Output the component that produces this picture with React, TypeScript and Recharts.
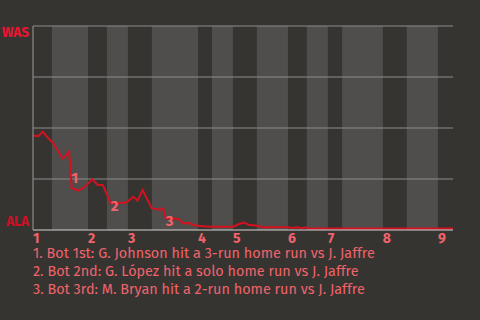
import React from 'react';
import { ComposedChart, Line, XAxis, YAxis, ReferenceArea, ReferenceLine, Scatter } from 'recharts';

// Game progress (0-100) and Washington win probability (%)
const progress = [0, 1.3, 2.3, 3.6, 4.5, 5.5, 7.0, 7.6, 8.6, 8.98, 9.2, 10.8, 12.4, 14.1, 15.4, 16.6, 17.5, 18.5, 20.3, 22.3, 23.9, 24.9, 26.1, 28.3, 29.5, 30.2, 31.0, 31.6, 34.6, 35.8, 37.4, 38.2, 40.5, 42.5, 47.7, 48.9, 50.2, 51.3, 52.5, 53.6, 54.8, 60.8, 61.6, 63.1, 63.8, 64.8, 65.5, 100];
const wasWinPct = [46.2, 46.1, 48.2, 45.1, 43.3, 40.3, 35.1, 35.8, 38.7, 27.0, 20.7, 19.3, 21.2, 24.9, 22.1, 22.1, 18.0, 13.1, 13.1, 13.6, 16.3, 14.4, 19.6, 10.6, 10.3, 9.8, 10.6, 5.7, 5.4, 3.3, 3.3, 2.3, 1.8, 1.6, 1.6, 2.8, 3.6, 2.6, 2.3, 2.0, 1.3, 1.3, 1.0, 1.3, 0.8, 1.3, 0.7, 0.7];

const innings = ['1', '2', '3', '4', '5', '6', '7', '8', '9'];
const inningStarts = [0, 13.1, 22.6, 39.3, 47.6, 60.7, 70.2, 83.3, 96.4];
const bottomHalfStarts = [4.5, 17.6, 28.3, 42.6, 53.3, 65.2, 73.6, 89.0];

const homeRunIdx = [9, 17, 27];
const homeRunLabels = ['1', '2', '3'];
const captions = [
  '1. Bot 1st: G. Johnson hit a 3-run home run vs J. Jaffre',
  '2. Bot 2nd: G. López hit a solo home run vs J. Jaffre',
  '3. Bot 3rd: M. Bryan hit a 2-run home run vs J. Jaffre',
];
const gridValues = [25, 50, 75, 100];

const data = progress.map((p, i) => ({ p, v: wasWinPct[i] }));
const hrData = homeRunIdx.map((idx, k) => ({ p: progress[idx], v: wasWinPct[idx], label: homeRunLabels[k] }));

const FONT = '"Fira Sans", "Noto Sans", sans-serif';
const SALMON = '#f0636b';

const XTick = (props: any) => {
  const i = inningStarts.indexOf(props.payload.value);
  return (
    <text x={props.x} y={props.y} textAnchor="start" dominantBaseline="central" fill={SALMON}
      fontFamily={FONT} fontWeight={700} fontSize={14}>
      {innings[i]}
    </text>
  );
};

const YTick = (props: any) => {
  const top = props.payload.value === 100;
  return (
    <text x={29} y={props.y + (top ? 6 : -9)} textAnchor="end" dominantBaseline="central"
      fill={top ? '#e8162e' : '#cc1024'} fontFamily={FONT} fontWeight={700} fontSize={13.5}>
      {top ? 'WAS' : 'ALA'}
    </text>
  );
};

const HrLabel = (props: any) => (
  <text x={props.cx + 4} y={props.cy + 3} textAnchor="middle" dominantBaseline="central"
    fill={SALMON} fontFamily={FONT} fontWeight={700} fontSize={15}>
    {props.payload.label}
  </text>
);

export default function App() {
  return (
    <div style={{ position: 'absolute', left: 0, top: 0, width: 480, height: 320, background: '#363431', overflow: 'hidden' }}>
      <ComposedChart width={480} height={250} data={data} margin={{ top: 26, right: 27, left: 0, bottom: 0 }}>
        <XAxis dataKey="p" type="number" domain={[0, 100]} ticks={inningStarts} tick={<XTick />}
          tickLine={false} axisLine={{ stroke: '#d4d4d4', strokeWidth: 1 }} height={20} interval={0} />
        <YAxis type="number" domain={[0, 100]} ticks={[0, 100]} tick={<YTick />} width={33}
          tickLine={false} axisLine={{ stroke: '#9a9a9a', strokeWidth: 1 }} interval={0} />
        {bottomHalfStarts.map((s, i) => (
          <ReferenceArea key={'b' + i} x1={s} x2={inningStarts[i + 1]} y1={0} y2={100}
            fill="#504e4c" fillOpacity={1} stroke="none" />
        ))}
        {gridValues.map((g) => (
          <ReferenceLine key={'g' + g} y={g} stroke="#8c8c8c" strokeWidth={1} />
        ))}
        <Line dataKey="v" type="linear" stroke="#d5101f" strokeWidth={2} dot={false} isAnimationActive={false} />
        <Scatter data={hrData} dataKey="v" shape={<HrLabel />} isAnimationActive={false} />
      </ComposedChart>
      <div style={{ position: 'absolute', left: 33, top: 245, fontFamily: FONT, fontSize: 14.4, lineHeight: '18px', color: SALMON }}>
        {captions.map((c, i) => (
          <div key={i}>{c}</div>
        ))}
      </div>
    </div>
  );
}
